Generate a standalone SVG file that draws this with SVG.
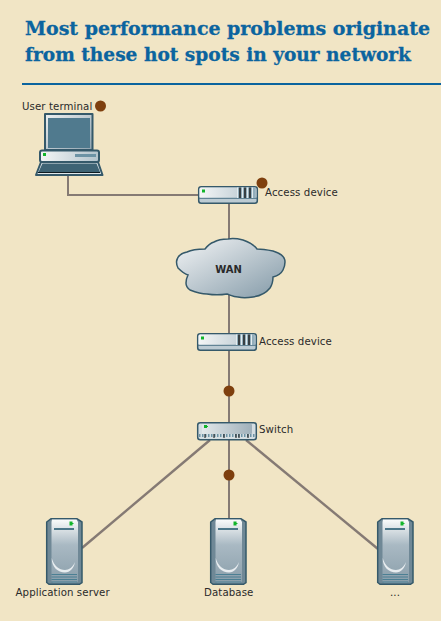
<svg xmlns="http://www.w3.org/2000/svg" xmlns:xlink="http://www.w3.org/1999/xlink" width="441" height="621" viewBox="0 0 441 621">
<style>
.title{font-family:"DejaVu Serif",serif;font-weight:700;font-size:19px;fill:#0b649f;stroke:#0b649f;stroke-width:.3}
.lbl{font-family:"DejaVu Sans",sans-serif;font-size:10.2px;letter-spacing:.1px;fill:#2a2a2a}
.wan{font-family:"DejaVu Sans",sans-serif;font-size:10px;font-weight:700;fill:#2a2a2a}
.ln{stroke:#857a74;stroke-width:2;fill:none}
.ln2{stroke:#857a74;stroke-width:2.400;fill:none}
.hot{fill:#7e3f0e}
.edge{stroke:#35596a;stroke-width:1.500}
</style>
<defs>
<linearGradient id="bright" x1="0" y1="0" x2="1" y2="0"><stop offset="0" stop-color="#f4f6f6"/><stop offset="1" stop-color="#b3c3cc"/></linearGradient>
<linearGradient id="cloudG" x1="0" y1="0" x2="1" y2="1"><stop offset="0" stop-color="#f4f5f6"/><stop offset="1" stop-color="#8299a7"/></linearGradient>
<linearGradient id="srvG" x1="0" y1="0" x2="0" y2="1"><stop offset="0" stop-color="#fafbfb"/><stop offset="0.4" stop-color="#a9b9c3"/><stop offset="1" stop-color="#8a9eaa"/></linearGradient>
<linearGradient id="swG" x1="0" y1="0" x2="1" y2="0"><stop offset="0" stop-color="#e3e8ea"/><stop offset="1" stop-color="#9fb0ba"/></linearGradient>
<linearGradient id="scrG" x1="0" y1="0" x2="1" y2="1"><stop offset="0" stop-color="#eef1f2"/><stop offset="1" stop-color="#8fa3af"/></linearGradient>
<g id="router">
<rect x="0.700" y="0.700" width="58.600" height="16.600" rx="2.500" fill="#bccbd3" class="edge"/>
<rect x="1.500" y="1.500" width="57" height="10.500" rx="1.500" fill="url(#bright)"/>
<line x1="1" y1="12.300" x2="59" y2="12.300" stroke="#4b7286" stroke-width="1"/>
<rect x="39" y="1.500" width="18.500" height="10.500" fill="#93aebb"/>
<path d="M42 1.500v10.500M47 1.500v10.500M52 1.500v10.500" stroke="#111" stroke-width="1.400"/>
<path d="M39.500 1.500v10.500M44.500 1.500v10.500M49.500 1.500v10.500M54.500 1.500v10.500" stroke="#e4ecef" stroke-width="1"/>
<rect x="4" y="3.500" width="3" height="3" fill="#12b52b"/>
</g>
<g id="server">
<path d="M5 .7H31L36 4V64.500L33.500 66.300H3L.7 64.500V4Z" fill="#6f8896" class="edge"/>
<path d="M6 1.500H30.500L32 4V63.500L30 65H7L5.500 63.500V4Z" fill="url(#srvG)"/>
<rect x="8" y="10" width="20" height="2" fill="#4b7689"/>
<path d="M5.700 40C5.500 49 12 54.500 19 54.500C24 54.500 28 50 29 44C27 49 23 52 19 52C13 52 8 48 5.700 40Z" fill="#e8edf0"/>
<path d="M5.500 56.500H31M5.500 59H31M5.500 61.500H31M5.500 64H31" stroke="#4b7f93" stroke-width="1"/>
<path d="M23.500 3.500h3v1.500h1v1h-1v1.500h-3Z" fill="#12b52b"/>
</g>
</defs>
<rect width="441" height="621" fill="#f1e5c5"/>
<text class="title" x="25" y="35" textLength="405" lengthAdjust="spacingAndGlyphs">Most performance problems originate</text>
<text class="title" x="25" y="61" textLength="386" lengthAdjust="spacingAndGlyphs">from these hot spots in your network</text>
<rect x="22" y="83" width="419" height="2" fill="#0b649f"/>
<g id="connectors">
<path class="ln" d="M68 175V195H198"/>
<path class="ln" d="M229 204V334"/>
<path class="ln" d="M229 351V423"/>
<path class="ln" d="M229 440V518"/>
<path class="ln2" d="M210 440L82 548"/>
<path class="ln2" d="M246 440L378 549"/>
</g>
<g id="user-terminal">
<path d="M45 114H92.500V150H45Z" fill="url(#scrG)" stroke="#35596a" stroke-width="2" stroke-linejoin="round"/>
<rect x="48" y="118" width="42" height="30" fill="#507a8e"/>
<rect x="40" y="150.500" width="59" height="11.500" rx="2" fill="url(#bright)" stroke="#35596a" stroke-width="2"/>
<rect x="75" y="154" width="21" height="3" fill="#6d93a5"/>
<rect x="43" y="153" width="3" height="3" fill="#12b52b"/>
<path d="M41 162H98L102.500 175H36Z" fill="#dfe6e9" stroke="#35596a" stroke-width="2" stroke-linejoin="round"/>
<path d="M42.500 163.500H96.500L100 172H38.500Z" fill="#3e6374"/>
<rect x="38" y="172" width="62" height="1" fill="#0d1a20"/>
<text class="lbl" x="22" y="110">User terminal</text>
<circle class="hot" cx="100.500" cy="106" r="5.500"/>
</g>
<g id="access-device-1">
<use xlink:href="#router" href="#router" x="198" y="186"/>
<circle class="hot" cx="262" cy="183" r="5.500"/>
<text class="lbl" x="265" y="196">Access device</text>
</g>
<g id="wan">
<path d="M176.500 262C177 256 182 253 187 252C193 249 199 249 205 249C208 245 211 243 214 242C219 239 224 239 228 239C233 238 239 239 243 240C249 242 254 245 257 249C262 249 268 250 273 251C280 253 285 257 285 262C285 266 284 268 283 270C281 274 277 276 273 277C273 281 272 285 270 288C266 293 260 296 253 297C247 298 242 298 238 297C234 297 230 295 227 294C221 295 213 295 207 294C201 294 195 292 190 290C187 288 186 285 186 283C186 280 187 277 188 275C184 274 181 271 178 268C177 266 176.500 264 176.500 262Z" fill="url(#cloudG)" stroke="#35596a" stroke-width="1.500"/>
<text class="wan" x="228.500" y="273" text-anchor="middle">WAN</text>
</g>
<g id="access-device-2">
<use xlink:href="#router" href="#router" x="197" y="333"/>
<text class="lbl" x="259" y="345">Access device</text>
</g>
<circle class="hot" cx="229" cy="391" r="5.500"/>
<g id="switch">
<rect x="197.700" y="422.700" width="58.600" height="17" rx="2.500" fill="#d5dee2" class="edge"/>
<rect x="202" y="424" width="50" height="10" rx="1" fill="url(#swG)"/>
<path d="M199 435.500H255" stroke="#6d93a5" stroke-width="3" stroke-dasharray="1.500 1.500"/>
<path d="M205 434v4M214 434v4M224 434v4M236 434v4M239 434v4M248 434v4" stroke="#111" stroke-width="1"/>
<path d="M204 425h3v1h1v1h-1v1h-3Z" fill="#12b52b"/>
<text class="lbl" x="259" y="433">Switch</text>
</g>
<circle class="hot" cx="229" cy="475" r="5.500"/>
<g id="application-server">
<use xlink:href="#server" href="#server" x="46" y="518"/>
<text class="lbl" x="15.500" y="596">Application server</text>
</g>
<g id="database">
<use xlink:href="#server" href="#server" x="210" y="518"/>
<text class="lbl" x="204" y="596">Database</text>
</g>
<g id="other-server">
<use xlink:href="#server" href="#server" x="377" y="518"/>
<text class="lbl" x="390" y="596">...</text>
</g>
</svg>
